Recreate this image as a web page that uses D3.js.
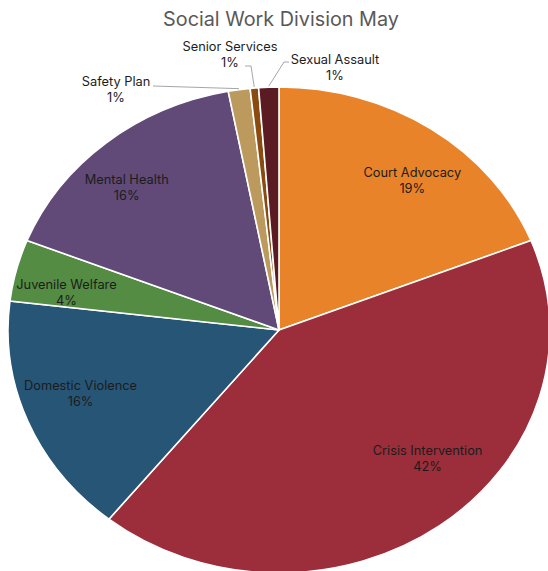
<!DOCTYPE html>
<html>
<head>
<meta charset="utf-8">
<script src="https://cdn.jsdelivr.net/npm/d3@7/dist/d3.min.js"></script>
<style>
  body { margin: 0; background: #fff; }
  svg text { font-family: Inter, "Open Sans", sans-serif; }
</style>
</head>
<body>
<svg id="chart" width="548" height="571"></svg>
<script>
// data (share of cases, %)
let categories = ["Court Advocacy", "Crisis Intervention", "Domestic Violence", "Juvenile Welfare",
                  "Mental Health", "Safety Plan", "Senior Services", "Sexual Assault"];
let shares = [19.0, 41.8, 16.1, 4.1, 16.0, 1.3, 0.5, 1.2];
let colors = ["#E8832A", "#9B2E3A", "#275576", "#548C44", "#614A77", "#BC9A5E", "#8A4B10", "#5A1B22"];
let title = "Social Work Division May";

let W = 548, H = 571;
let cx = 279, cy = 330, rx = 271, ry = 243;
let sx = rx / ry; // the pie is drawn stretched sideways

// label nudges: [angle shift in degrees, fraction of radius]
let labelNudge = {
  "Court Advocacy":      [4.3, 0.79],
  "Crisis Intervention": [-9.8, 0.76],
  "Domestic Violence":   [2.6, 0.777],
  "Juvenile Welfare":    [-2.8, 0.80],
  "Mental Health":       [-4.0, 0.815]
};

let svg = d3.select("#chart");

svg.append("text")
   .attr("x", 281).attr("y", 26)
   .attr("text-anchor", "middle")
   .attr("font-size", "19.8px")
   .attr("fill", "#595959")
   .text(title);

let data = categories.map((c, i) => ({name: c, value: shares[i], color: colors[i]}));
let total = d3.sum(shares);

let pie = d3.pie().sort(null).value(d => d.value);
let arc = d3.arc().innerRadius(0).outerRadius(ry);
let arcs = pie(data);

let g = svg.append("g").attr("transform", "translate(" + cx + "," + cy + ") scale(" + sx + ",1)");

g.selectAll("path")
 .data(arcs)
 .enter().append("path")
 .attr("d", arc)
 .attr("fill", d => d.data.color)
 .attr("stroke", "#fff")
 .attr("stroke-width", 1.6)
 .attr("vector-effect", "non-scaling-stroke");

function pct(d) { return Math.round(d.data.value / total * 100) + "%"; }

function pointAt(angle, r) {
  return [cx + Math.sin(angle) * r * sx, cy - Math.cos(angle) * r];
}

// labels inside the bigger slices
let inside = arcs.filter(d => d.data.value >= 3);
let lab = svg.append("g").attr("font-size", "12.8px").attr("fill", "#1c1c1c").attr("text-anchor", "middle");
inside.forEach(d => {
  let n = labelNudge[d.data.name];
  let a = (d.startAngle + d.endAngle) / 2 + n[0] * Math.PI / 180;
  let p = pointAt(a, ry * n[1]);
  lab.append("text").attr("x", p[0]).attr("y", p[1] - 3).text(d.data.name);
  lab.append("text").attr("x", p[0]).attr("y", p[1] + 13).text(pct(d));
});

// callouts for the thin slices
let callouts = {
  "Safety Plan":     {tx: 116, ty: 86, line: [[153, 86]]},
  "Senior Services": {tx: 230, ty: 51, line: [[245, 66], [251, 66]]},
  "Sexual Assault":  {tx: 335, ty: 64, line: [[289, 62], [284, 62]]}
};
arcs.filter(d => d.data.value < 3).forEach(d => {
  let c = callouts[d.data.name];
  let a = (d.startAngle + d.endAngle) / 2;
  let end = pointAt(a, ry + 1);
  let pts = c.line.concat([end]);
  svg.append("path")
     .attr("d", d3.line()(pts))
     .attr("fill", "none")
     .attr("stroke", "#a6a6a6")
     .attr("stroke-width", 1);
  lab.append("text").attr("x", c.tx).attr("y", c.ty).text(d.data.name);
  lab.append("text").attr("x", c.tx).attr("y", c.ty + 16).text(pct(d));
});
</script>
</body>
</html>
